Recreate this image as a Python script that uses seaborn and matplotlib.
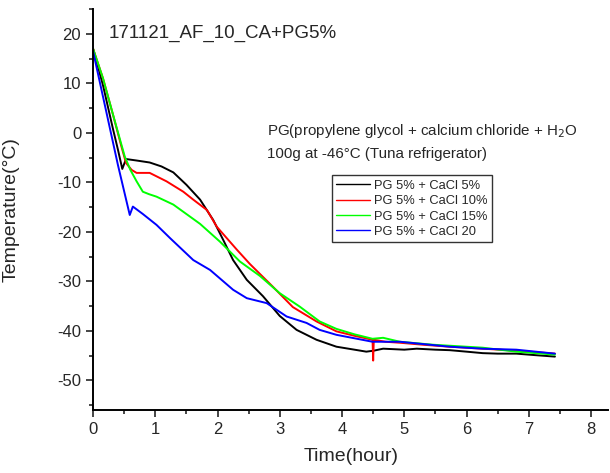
import matplotlib
matplotlib.use("Agg")
import matplotlib.pyplot as plt
from matplotlib.ticker import MultipleLocator
import pandas as pd
import seaborn as sns

# temperature curves (time in hours, temperature in °C)
black_t = [0, 0.16, 0.32, 0.40, 0.47, 0.53, 0.7, 0.91, 1.1, 1.29, 1.5, 1.72, 1.93, 2.09, 2.25, 2.47,
           2.73, 3.0, 3.27, 3.59, 3.91, 4.2, 4.39, 4.51, 4.66, 5.0, 5.2, 5.5, 5.73, 6.0, 6.26, 6.5,
           6.8, 7.1, 7.42]
black_y = [17, 9.6, 0.8, -3.4, -7.3, -5.3, -5.6, -6.0, -6.8, -8.0, -10.5, -13.5, -17.6, -21.6, -25.7,
           -29.7, -33, -37, -39.8, -41.8, -43.2, -43.8, -44.2, -44.0, -43.6, -43.8, -43.6, -43.8,
           -43.9, -44.2, -44.5, -44.6, -44.6, -44.9, -45.2]

red_t = [0, 0.16, 0.32, 0.45, 0.53, 0.62, 0.7, 0.91, 1.18, 1.45, 1.61, 1.83, 1.99, 2.15, 2.31, 2.52,
         2.89, 3.21, 3.59, 3.91, 4.2, 4.49, 4.50, 4.51, 4.7, 4.93, 5.3, 5.73, 6.26, 6.8, 7.42]
red_y = [17, 11, 3.7, -2.5, -6.1, -7.5, -8.1, -8.1, -9.8, -11.9, -13.5, -15.6, -19, -21.3, -23.6,
         -26.5, -31.1, -35.2, -38.1, -40.1, -41.0, -41.8, -46, -41.8, -42.2, -42.4, -42.8, -43.2,
         -43.6, -44.0, -44.6]

green_t = [0, 0.16, 0.32, 0.51, 0.6, 0.7, 0.8, 0.9, 1.02, 1.29, 1.72, 2.04, 2.36, 2.68, 3.0, 3.32,
           3.64, 3.91, 4.2, 4.49, 4.66, 4.93, 5.46, 6.26, 6.8, 7.42]
green_y = [17, 11, 3.7, -4.8, -7.5, -9.8, -11.9, -12.4, -12.9, -14.5, -18.4, -22, -26, -28.9, -32.4,
           -35.1, -38.1, -39.6, -40.7, -41.6, -41.4, -42.2, -42.8, -43.4, -44.2, -44.8]

blue_t = [0, 0.2, 0.4, 0.59, 0.64, 0.8, 1.02, 1.24, 1.61, 1.88, 2.25, 2.47, 2.79, 3.11, 3.43, 3.64,
          3.91, 4.49, 4.93, 5.73, 6.26, 6.8, 7.42]
blue_y = [16.5, 5.0, -6.5, -16.6, -14.9, -16.4, -18.6, -21.3, -25.7, -27.7, -31.7, -33.4, -34.4,
          -37.1, -38.4, -39.8, -40.8, -42.2, -42.2, -43.2, -43.6, -43.8, -44.6]

labels = ["PG 5% + CaCl 5%", "PG 5% + CaCl 10%", "PG 5% + CaCl 15%", "PG 5% + CaCl 20"]
colors = ["black", "red", "#00ff00", "blue"]

sns.set_style("ticks")
plt.rcParams["font.family"] = ["Liberation Sans", "DejaVu Sans"]
plt.rcParams["axes.unicode_minus"] = False

fig = plt.figure(figsize=(6.1, 4.73), dpi=100)
ax = fig.add_axes([0.1525, 0.133, 0.845, 0.848])

series = [(black_t, black_y), (red_t, red_y), (green_t, green_y), (blue_t, blue_y)]
for (t, y), lab, c in zip(series, labels, colors):
    df = pd.DataFrame({"t": t, "y": y})
    sns.lineplot(data=df, x="t", y="y", ax=ax, color=c, lw=1.4, label=lab,
                 sort=False, estimator=None)

ax.set_xlim(0, 8.28)
ax.set_ylim(-56, 25)
ax.xaxis.set_major_locator(MultipleLocator(1))
ax.xaxis.set_minor_locator(MultipleLocator(0.5))
ax.yaxis.set_major_locator(MultipleLocator(10))
ax.yaxis.set_minor_locator(MultipleLocator(5))
ax.tick_params(which="major", length=5, width=1.2, labelsize=12, direction="out")
ax.tick_params(which="minor", length=3, width=1.2, direction="out")
sns.despine(ax=ax)
for s in ["left", "bottom"]:
    ax.spines[s].set_linewidth(1.4)
    ax.spines[s].set_color("black")

ax.set_xlabel("Time(hour)", fontsize=14, labelpad=8)
ax.set_ylabel("Temperature(°C)", fontsize=14)
ax.yaxis.set_label_coords(-0.142, 0.5)

ax.text(0.03, 0.94, "171121_AF_10_CA+PG5%", transform=ax.transAxes, fontsize=13.5,
        va="center", ha="left")
ax.text(0.337, 0.695, r"PG(propylene glycol + calcium chloride + H$_2$O", transform=ax.transAxes,
        fontsize=10.9, va="center", ha="left")
ax.text(0.337, 0.638, "100g at -46°C (Tuna refrigerator)", transform=ax.transAxes,
        fontsize=10.9, va="center", ha="left")

leg = ax.legend(loc="upper left", bbox_to_anchor=(0.463, 0.585), fontsize=9.3, frameon=True,
                fancybox=False, edgecolor="black", handlelength=2.6, handletextpad=0.3,
                borderpad=0.35, labelspacing=0.25, borderaxespad=0)
leg.get_frame().set_linewidth(1.0)
for h in leg.get_lines():
    h.set_linewidth(1.0)

fig.savefig("out.png", dpi=100)
